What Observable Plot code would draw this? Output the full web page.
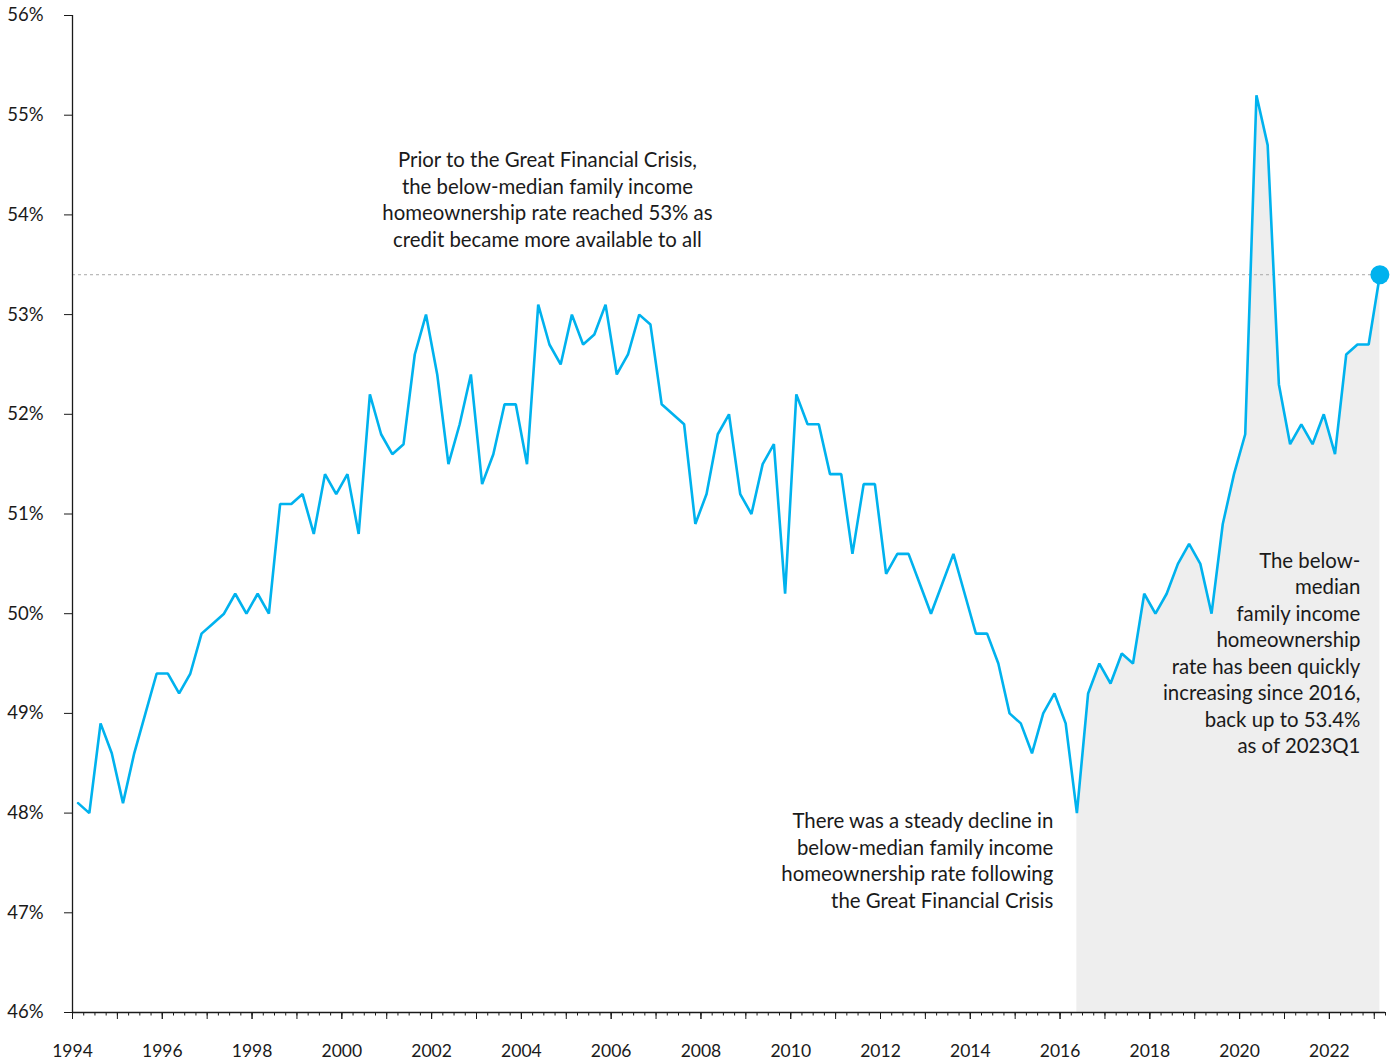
<!DOCTYPE html>
<html>
<head>
<meta charset="utf-8">
<script src="https://cdn.jsdelivr.net/npm/d3@7"></script>
<script src="https://cdn.jsdelivr.net/npm/@observablehq/plot@0.6"></script>
<style>
  body { margin: 0; background: #ffffff; }
  #chart svg { display: block; }
</style>
</head>
<body>
<div id="chart"></div>
<script>
// ---- Data: below-median family income homeownership rate (%), quarterly 1994Q1 – 2023Q1 ----
const startYear = 1994;
const rates = [
  48.1, 48.0, 48.9, 48.6,   // 1994
  48.1, 48.6, 49.0, 49.4,   // 1995
  49.4, 49.2, 49.4, 49.8,   // 1996
  49.9, 50.0, 50.2, 50.0,   // 1997
  50.2, 50.0, 51.1, 51.1,   // 1998
  51.2, 50.8, 51.4, 51.2,   // 1999
  51.4, 50.8, 52.2, 51.8,   // 2000
  51.6, 51.7, 52.6, 53.0,   // 2001
  52.4, 51.5, 51.9, 52.4,   // 2002
  51.3, 51.6, 52.1, 52.1,   // 2003
  51.5, 53.1, 52.7, 52.5,   // 2004
  53.0, 52.7, 52.8, 53.1,   // 2005
  52.4, 52.6, 53.0, 52.9,   // 2006
  52.1, 52.0, 51.9, 50.9,   // 2007
  51.2, 51.8, 52.0, 51.2,   // 2008
  51.0, 51.5, 51.7, 50.2,   // 2009
  52.2, 51.9, 51.9, 51.4,   // 2010
  51.4, 50.6, 51.3, 51.3,   // 2011
  50.4, 50.6, 50.6, 50.3,   // 2012
  50.0, 50.3, 50.6, 50.2,   // 2013
  49.8, 49.8, 49.5, 49.0,   // 2014
  48.9, 48.6, 49.0, 49.2,   // 2015
  48.9, 48.0, 49.2, 49.5,   // 2016
  49.3, 49.6, 49.5, 50.2,   // 2017
  50.0, 50.2, 50.5, 50.7,   // 2018
  50.5, 50.0, 50.9, 51.4,   // 2019
  51.8, 55.2, 54.7, 52.3,   // 2020
  51.7, 51.9, 51.7, 52.0,   // 2021
  51.6, 52.6, 52.7, 52.7,   // 2022
  53.4                      // 2023Q1
];
const shadeStartQuarter = "2016Q2";
const referenceRate = 53.4;

// Axis ticks
const yTickValues = [46, 47, 48, 49, 50, 51, 52, 53, 54, 55, 56];
const xLabelYears = [1994, 1996, 1998, 2000, 2002, 2004, 2006, 2008, 2010, 2012, 2014, 2016, 2018, 2020, 2022];
const xMajorYears = d3.range(1994, 2024);
const xMinorQuarters = d3.range(0, 118).map(i => 1994 + i / 4);

// Annotations
const annotationTexts = [
  "Prior to the Great Financial Crisis,\nthe below-median family income\nhomeownership rate reached 53% as\ncredit became more available to all",
  "There was a steady decline in\nbelow-median family income\nhomeownership rate following\nthe Great Financial Crisis",
  "The below-\nmedian\nfamily income\nhomeownership\nrate has been quickly\nincreasing since 2016,\nback up to 53.4%\nas of 2023Q1"
];
const annotationX = [2004.58, 2015.85, 2022.69];
const annotationY = [54.165, 47.535, 49.615];
const annotationAnchor = ["middle", "end", "end"];

// ---- Build table ----
const data = rates.map((v, i) => ({
  quarter: `${startYear + Math.floor(i / 4)}Q${(i % 4) + 1}`,
  t: startYear + (i + 0.5) / 4,
  v
}));
const shadeStart = data.findIndex(d => d.quarter === shadeStartQuarter);
const shadeData = data.slice(shadeStart);
const last = data[data.length - 1];
const annotations = annotationTexts.map((text, i) => ({
  text, x: annotationX[i], y: annotationY[i], anchor: annotationAnchor[i]
}));

const lineColor = "#00b2ee";
const ink = "#1a1a1a";

const chart = Plot.plot({
  width: 1397,
  height: 1064,
  marginLeft: 72,
  marginRight: 12,
  marginTop: 15,
  marginBottom: 52,
  x: { domain: [1994, 2023.25] },
  y: { domain: [46, 56] },
  style: { fontFamily: "Lato, 'Open Sans', sans-serif", fontSize: "17px", color: ink, background: "#ffffff" },
  marks: [
    Plot.areaY(shadeData, { x: "t", y1: 46, y2: "v", fill: "#eeeeee" }),
    Plot.ruleY([referenceRate], { x1: 1994, x2: last.t, stroke: "#a8a8a8", strokeWidth: 1, strokeDasharray: "3,3" }),
    Plot.line(data, { x: "t", y: "v", stroke: lineColor, strokeWidth: 2.6, strokeLinejoin: "miter" }),
    Plot.dot([last], { x: "t", y: "v", r: 9.5, fill: lineColor, stroke: null }),
    Plot.ruleX([1994], { stroke: ink, strokeWidth: 1.3 }),
    Plot.ruleY([46], { stroke: ink, strokeWidth: 1.3 }),
    Plot.axisY({ ticks: yTickValues, tickSize: 8, tickPadding: 21, tickFormat: d => d + "%", label: null, fontSize: 18.5, stroke: ink }),
    Plot.axisX({ ticks: xMinorQuarters, tickSize: 3.5, tickFormat: () => "", label: null, stroke: ink }),
    Plot.axisX({ ticks: xMajorYears, tickSize: 7, tickFormat: () => "", label: null, stroke: ink }),
    Plot.axisX({ ticks: xLabelYears, tickSize: 7, tickPadding: 25, tickFormat: d => String(d), label: null, fontSize: 17.5, stroke: ink }),
    Plot.text(annotations.filter(a => a.anchor === "middle"), {
      x: "x", y: "y", text: "text", textAnchor: "middle", lineAnchor: "middle",
      lineHeight: 1.3, fontSize: 20.4, fill: ink
    }),
    Plot.text(annotations.filter(a => a.anchor === "end"), {
      x: "x", y: "y", text: "text", textAnchor: "end", lineAnchor: "middle",
      lineHeight: 1.3, fontSize: 20.4, fill: ink
    })
  ]
});

document.getElementById("chart").appendChild(chart);
</script>
</body>
</html>
